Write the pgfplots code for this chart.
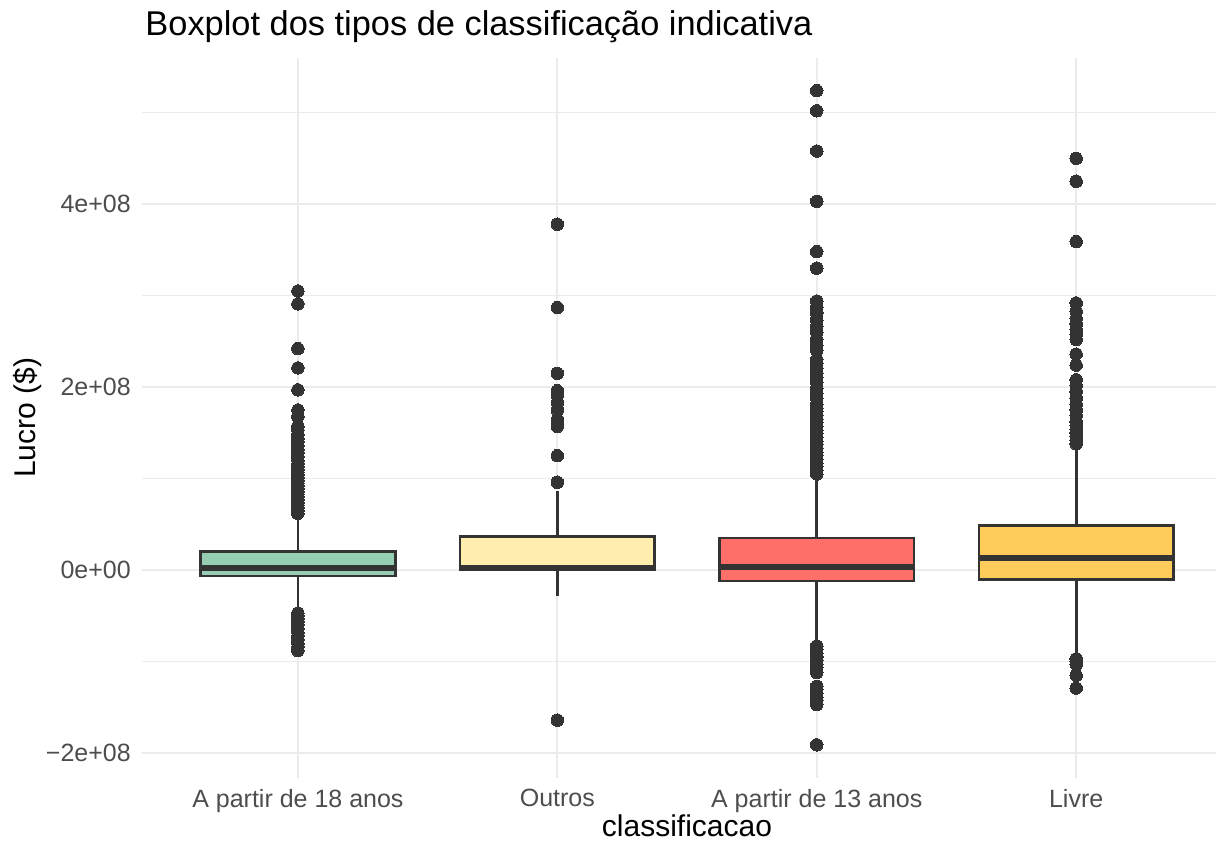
\documentclass[border=0pt]{standalone}
\usepackage{fontspec}
\setmainfont{Liberation Sans}
\usepackage{pgfplots}
\pgfplotsset{compat=1.18}
\usepgfplotslibrary{statistics}
\definecolor{gridc}{HTML}{EBEBEB}
\definecolor{ink}{HTML}{333333}
\definecolor{tickc}{HTML}{4D4D4D}
\definecolor{mint}{HTML}{96CEB4}
\definecolor{cream}{HTML}{FFEEAD}
\definecolor{coral}{HTML}{FF6F69}
\definecolor{gold}{HTML}{FFCC5C}
\begin{document}
\begin{tikzpicture}
\useasboundingbox (-56.9pt,-26.1pt) rectangle (430.3pt,311.1pt);
\begin{axis}[
    at={(0pt,0pt)}, anchor=south west,
    scale only axis, width=429.6pt, height=288pt,
    xmin=0.4, xmax=4.54, ymin=-2.27, ymax=5.60,
    axis line style={draw=none},
    major tick length=0pt, minor tick length=0pt,
    xtick={1,2,3,4},
    xticklabels={A partir de 18 anos, Outros, A partir de 13 anos, Livre},
    ytick={-2,0,2,4},
    yticklabels={−2e+08, 0e+00, 2e+08, 4e+08},
    minor ytick={-1,1,3,5},
    grid=both,
    major grid style={gridc, line width=0.8pt},
    minor grid style={gridc, line width=0.45pt},
    ticklabel style={font=\fontsize{10}{12}\selectfont, text=tickc, inner sep=0pt},
    xticklabel style={anchor=north, yshift=-4.5pt},
    yticklabel style={anchor=east, xshift=-4.4pt},
    xlabel={classificacao},
    ylabel={Lucro (\$)},
    label style={font=\fontsize{12}{14}\selectfont, inner sep=0pt},
    xlabel style={at={(axis description cs:0.5072,-0.067)}, anchor=center},
    ylabel style={at={(axis description cs:-0.1073,0.5)}, anchor=center},
    boxplot/draw direction=y,
    clip=false,
]
% outliers (units of 1e8)
\addplot[only marks, mark=*, mark size=2.5pt, mark options={draw=ink, fill=ink, line width=0pt}] coordinates {
(1,0.62) (1,0.65) (1,0.68) (1,0.71) (1,0.74) (1,0.77) (1,0.80) (1,0.83) (1,0.86) (1,0.89)
(1,0.92) (1,0.95) (1,0.98) (1,1.01) (1,1.04) (1,1.07) (1,1.10) (1,1.13) (1,1.16) (1,1.20)
(1,1.24) (1,1.28) (1,1.32) (1,1.36) (1,1.40) (1,1.44) (1,1.48) (1,1.53) (1,1.57) (1,1.68)
(1,1.75) (1,1.97) (1,2.21) (1,2.42) (1,2.91) (1,3.05)
(1,-0.47) (1,-0.50) (1,-0.53) (1,-0.56) (1,-0.60) (1,-0.64) (1,-0.68) (1,-0.72) (1,-0.76)
(1,-0.80) (1,-0.84) (1,-0.88)
(2,0.96) (2,1.25) (2,1.57) (2,1.64) (2,1.75) (2,1.83) (2,1.91) (2,1.96) (2,2.15) (2,2.87)
(2,3.78) (2,-1.64)
(3,1.05) (3,1.09) (3,1.13) (3,1.17) (3,1.21) (3,1.25) (3,1.29) (3,1.33) (3,1.37) (3,1.41)
(3,1.45) (3,1.49) (3,1.53) (3,1.57) (3,1.61) (3,1.65) (3,1.69) (3,1.73) (3,1.77) (3,1.81)
(3,1.88) (3,1.93) (3,1.98) (3,2.05) (3,2.10) (3,2.15) (3,2.20) (3,2.26) (3,2.30) (3,2.40)
(3,2.46) (3,2.52) (3,2.60) (3,2.66) (3,2.73) (3,2.81) (3,2.87) (3,2.94) (3,3.30) (3,3.48)
(3,4.03) (3,4.58) (3,5.02) (3,5.24)
(3,-0.83) (3,-0.87) (3,-0.91) (3,-0.95) (3,-0.99) (3,-1.03) (3,-1.07) (3,-1.12) (3,-1.27)
(3,-1.31) (3,-1.35) (3,-1.39) (3,-1.43) (3,-1.47) (3,-1.91)
(4,1.38) (4,1.42) (4,1.46) (4,1.50) (4,1.54) (4,1.58) (4,1.62) (4,1.69) (4,1.75) (4,1.81)
(4,1.88) (4,1.95) (4,2.02) (4,2.08) (4,2.24) (4,2.36) (4,2.52) (4,2.58) (4,2.63) (4,2.69)
(4,2.75) (4,2.83) (4,2.92) (4,3.59) (4,4.25) (4,4.50)
(4,-0.97) (4,-1.00) (4,-1.03) (4,-1.15) (4,-1.29)
};
% boxes
\addplot[boxplot prepared={draw position=1, lower whisker=-0.44, lower quartile=-0.066,
    median=0.02, upper quartile=0.20, upper whisker=0.60, box extend=0.75, whisker extend=0},
    draw=ink, line width=1.1pt, fill=mint, boxplot/every median/.style={line width=2.4pt}] coordinates {};
\addplot[boxplot prepared={draw position=2, lower whisker=-0.28, lower quartile=0.0,
    median=0.026, upper quartile=0.37, upper whisker=0.86, box extend=0.75, whisker extend=0},
    draw=ink, line width=1.1pt, fill=cream, boxplot/every median/.style={line width=2.4pt}] coordinates {};
\addplot[boxplot prepared={draw position=3, lower whisker=-0.78, lower quartile=-0.12,
    median=0.035, upper quartile=0.35, upper whisker=1.05, box extend=0.75, whisker extend=0},
    draw=ink, line width=1.1pt, fill=coral, boxplot/every median/.style={line width=2.4pt}] coordinates {};
\addplot[boxplot prepared={draw position=4, lower whisker=-0.93, lower quartile=-0.10,
    median=0.13, upper quartile=0.49, upper whisker=1.34, box extend=0.75, whisker extend=0},
    draw=ink, line width=1.1pt, fill=gold, boxplot/every median/.style={line width=2.4pt}] coordinates {};
\end{axis}
\node[anchor=base west, inner sep=0pt, font=\fontsize{13.75}{16}\selectfont] at (1.1pt,296.7pt)
    {Boxplot dos tipos de classificação indicativa};
\end{tikzpicture}
\end{document}
